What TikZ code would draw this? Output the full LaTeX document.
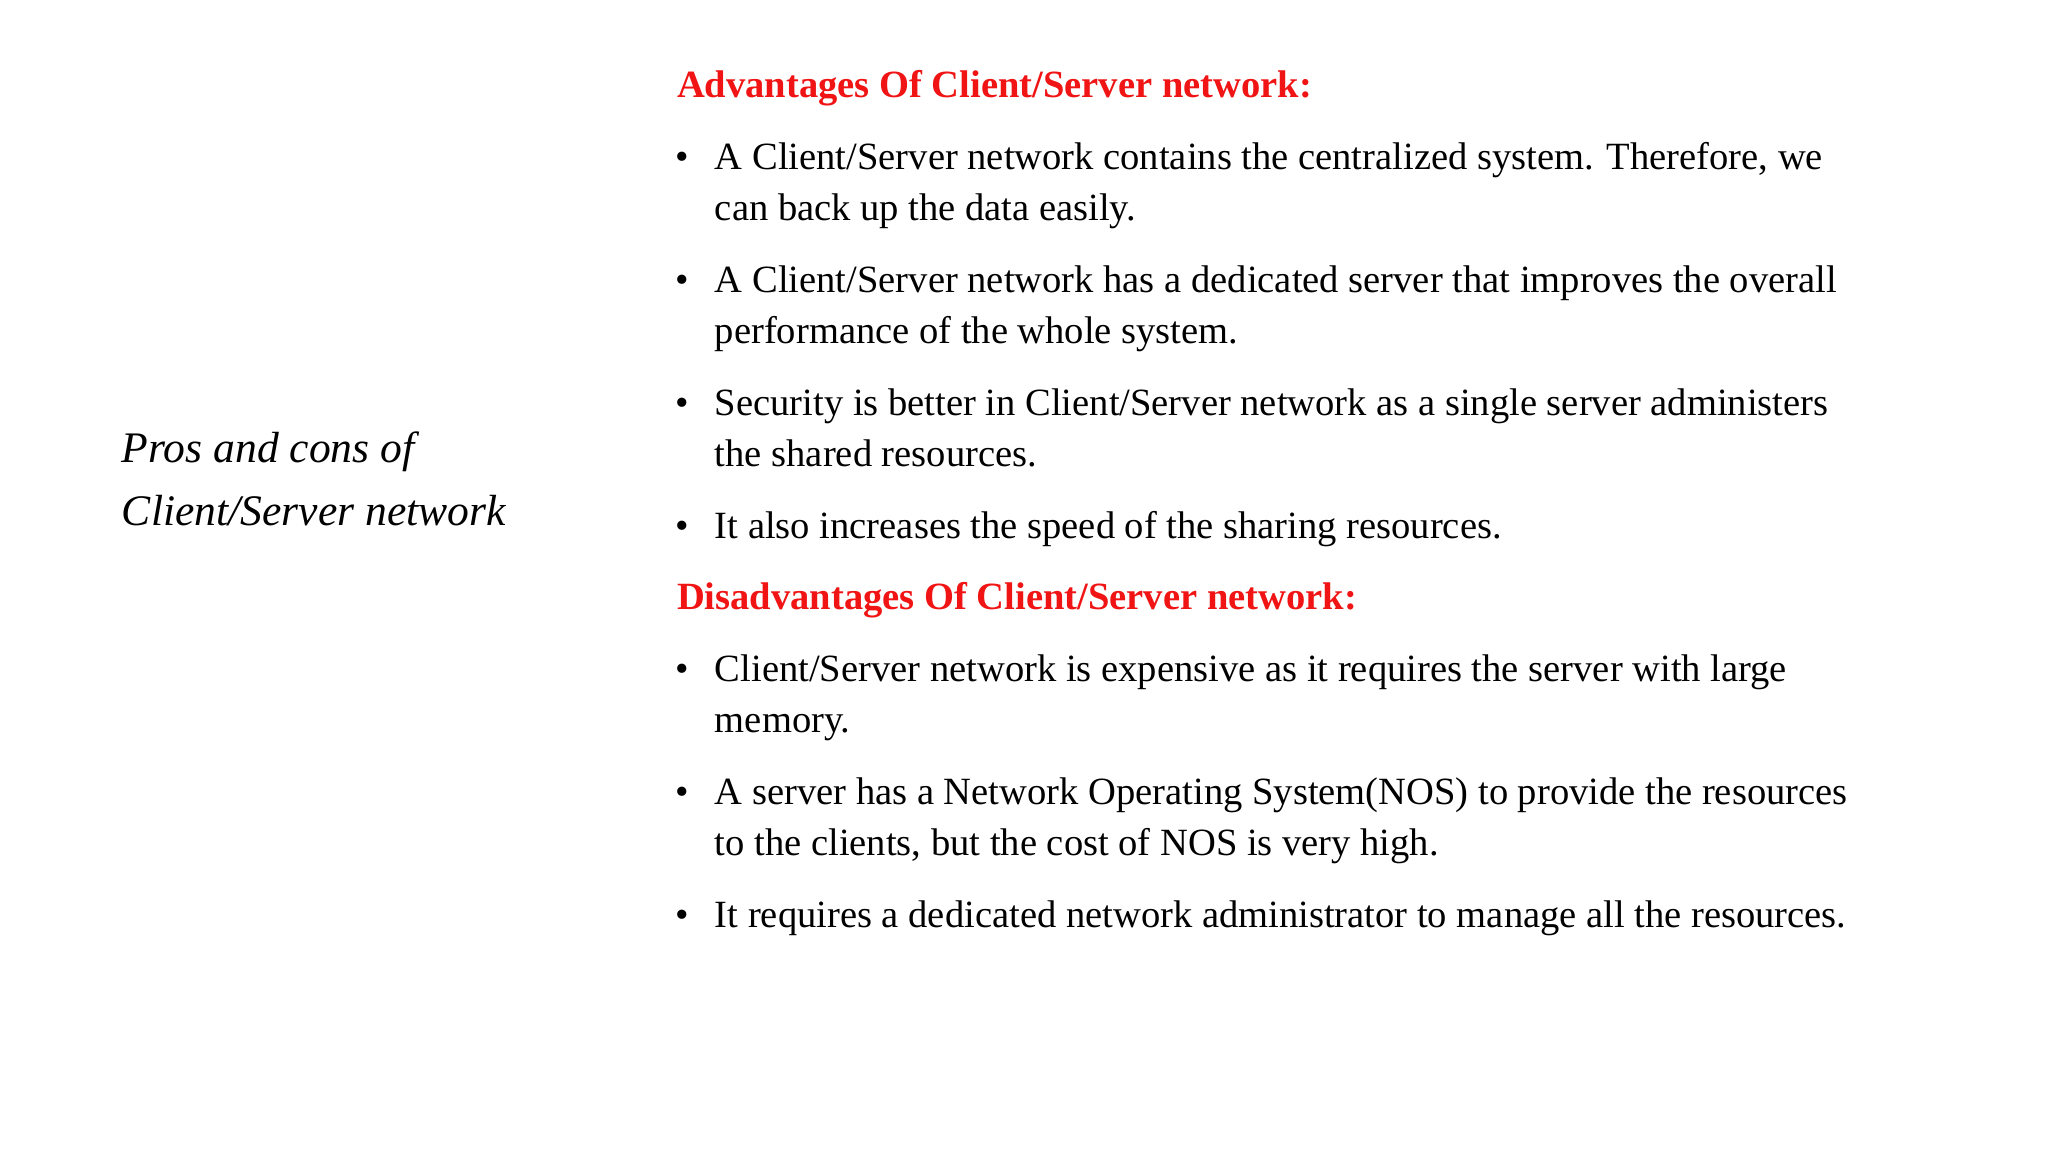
\documentclass[tikz,border=0pt]{standalone}
\usepackage{fontspec}
\setmainfont{Liberation Serif}
\definecolor{hred}{RGB}{240,20,20}
\begin{document}
\begin{tikzpicture}[x=0.02cm,y=-0.02cm,
  txt/.style={anchor=base west,inner sep=0pt,font=\fontsize{16.8}{20}\selectfont},
  head/.style={txt,text=hred,font=\fontsize{16.8}{20}\selectfont\bfseries},
  bul/.style={anchor=base west,inner sep=0pt,font=\fontsize{16.8}{20}\selectfont},
  ttl/.style={anchor=base west,inner sep=0pt,font=\fontsize{19}{24}\selectfont\itshape}]
\useasboundingbox (0,0) rectangle (1568,882);
\node[ttl] (t1) at (93,354) {Pros and cons of};
\node[ttl] (t2) at (93,402) {Client/Server network};
\node[head] (h1) at (518,75) {Advantages Of Client/Server network:};
\foreach \y in {130,224,318,412,522,616,710} {\node[bul] at (517,\y) {\textbullet};}
\node[txt] (l1) at (547,130) {A Client/Server network contains the centralized system. Therefore, we};
\node[txt] (l2) at (547,169) {can back up the data easily.};
\node[txt] (l3) at (547,224) {A Client/Server network has a dedicated server that improves the overall};
\node[txt] (l4) at (547,263) {performance of the whole system.};
\node[txt] (l5) at (547,318) {Security is better in Client/Server network as a single server administers};
\node[txt] (l6) at (547,357) {the shared resources.};
\node[txt] (l7) at (547,412) {It also increases the speed of the sharing resources.};
\node[head] (h2) at (518,467) {Disadvantages Of Client/Server network:};
\node[txt] (l8) at (547,522) {Client/Server network is expensive as it requires the server with large};
\node[txt] (l9) at (547,561) {memory.};
\node[txt] (l10) at (547,616) {A server has a Network Operating System(NOS) to provide the resources};
\node[txt] (l11) at (547,655) {to the clients, but the cost of NOS is very high.};
\node[txt] (l12) at (547,710) {It requires a dedicated network administrator to manage all the resources.};
\end{tikzpicture}
\end{document}
